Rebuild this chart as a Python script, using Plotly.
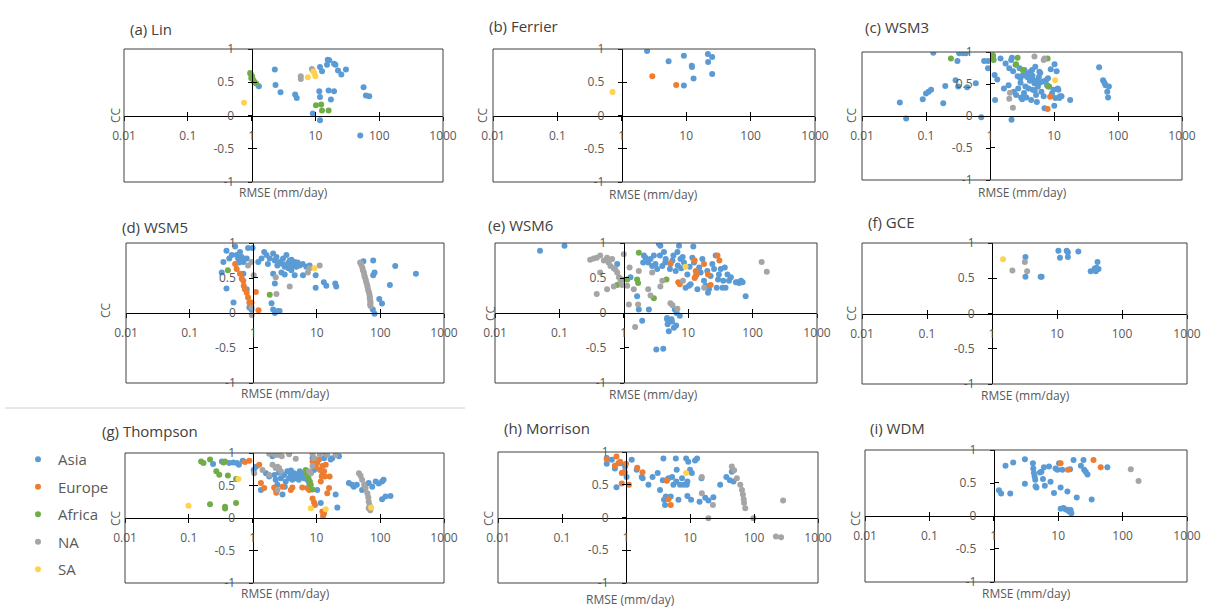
import plotly.graph_objects as go

REGIONS = ["Asia", "Europe", "Africa", "NA", "SA"]
COLORS = {"Asia": "#5B9BD5", "Europe": "#ED7D31", "Africa": "#70AD47", "NA": "#A5A5A5", "SA": "#FFD34E"}
PANEL_TITLES = ["(a) Lin", "(b) Ferrier", "(c) WSM3", "(d) WSM5", "(e) WSM6", "(f) GCE",
                "(g) Thompson", "(h) Morrison", "(i) WDM"]
X_TICKS = [0.01, 0.1, 1, 10, 100, 1000]
X_TICK_TEXT = ["0.01", "0.1", "1", "10", "100", "1000"]
Y_TICKS = [-1, -0.5, 0, 0.5, 1]
Y_TICK_TEXT = ["-1", "-0.5", "0", "0.5", "1"]

# (RMSE, CC) pairs per region, per scheme
LIN = {
    "Asia": [(1.30, 0.44), (2.31, 0.69), (2.37, 0.46), (2.84, 0.35), (4.81, 0.315), (5.1, 0.265), (11.8, 0.73),
             (12.7, 0.665), (11.5, 0.365), (11.8, 0.28), (11.8, -0.07), (9.1, 0.03), (15.6, 0.84), (16.5, 0.83),
             (15.2, 0.765), (16.1, 0.375), (17.5, 0.24), (19.6, 0.78), (20.6, 0.765), (19.6, 0.365), (22.6, 0.675),
             (25.5, 0.615), (30.1, 0.69), (56.9, 0.425), (62, 0.30), (69.8, 0.29), (50.5, -0.30)],
    "Africa": [(0.95, 0.64), (0.97, 0.62), (1.02, 0.59), (0.99, 0.56), (1.07, 0.53), (1.11, 0.50), (1.18, 0.48),
               (10.2, 0.155), (12.3, 0.165), (12.7, 0.075), (16.1, 0.075)],
    "NA": [(5.9, 0.59), (5.9, 0.55), (8.8, 0.70), (9.1, 0.675)],
    "SA": [(0.76, 0.19), (7.6, 0.575), (9.6, 0.64), (10.0, 0.59), (9.3, 0.66)],
}
FERRIER = {
    "Asia": [(2.47, 0.97), (5.33, 0.815), (9.2, 0.90), (12.2, 0.75), (12.3, 0.73), (21.7, 0.925), (25.3, 0.88),
             (21.9, 0.805), (25.3, 0.625), (13.0, 0.555), (9.2, 0.45)],
    "Europe": [(2.98, 0.59), (7.0, 0.46)],
    "SA": [(0.717, 0.355)],
}
WSM3 = {
    "Asia": [(0.039, 0.21), (0.049, -0.04), (0.089, 0.26), (0.10, 0.35), (0.11, 0.38), (0.12, 0.41), (0.13, 0.99),
             (0.186, 0.20), (0.20, 0.47), (0.29, 0.56), (0.31, 0.86), (0.33, 0.98), (0.38, 0.98), (0.42, 0.98),
             (0.318, 0.46), (0.44, 0.45), (0.60, 0.51), (0.73, -0.02), (0.81, 0.86), (0.93, 0.86), (0.93, 0.745),
             (1.11, 0.93), (1.18, 0.64), (1.3, 0.57), (1.2, 0.25), (1.46, 0.90), (1.65, 0.43), (1.75, 0.82),
             (1.95, 0.48), (2.0, 0.745), (2.14, 0.875), (2.2, 0.91), (2.17, -0.06), (2.36, 0.38), (2.56, 0.33),
             (2.76, 0.43), (2.9, 0.745), (2.99, 0.59), (3.06, 0.29), (3.18, 0.26), (3.26, 0.64), (3.46, 0.72),
             (3.58, 0.46), (3.8, 0.61), (4.0, 0.43), (4.28, 0.69), (4.4, 0.25), (4.55, 0.72), (4.65, 0.41),
             (4.77, 0.56), (4.95, 0.51), (5.1, 0.77), (5.25, 0.33), (5.4, 0.22), (5.6, 0.46), (5.8, 0.61),
             (5.9, 0.69), (6.1, 0.67), (6.35, 0.38), (6.7, 0.54), (6.9, 0.31), (7.1, 0.12), (7.5, 0.56), (7.8, 0.48),
             (8.05, 0.59), (8.4, 0.46), (8.9, 0.73), (9.3, 0.35), (9.8, 0.41), (10.2, 0.81), (10.5, 0.28),
             (11.0, 0.70), (11.4, 0.43), (11.7, 0.41), (12.1, 0.28), (12.4, 0.31), (13.1, 0.31), (17.9, 0.25),
             (10.1, 0.16), (2.5, 0.80), (3.0, 0.52), (3.4, 0.36), (3.9, 0.66), (4.2, 0.55), (4.6, 0.63), (5.0, 0.40),
             (5.5, 0.56), (6.0, 0.52), (3.7, 0.29), (2.7, 0.62), (2.3, 0.70),
             (50.7, 0.76), (58.4, 0.56), (61.3, 0.52), (64, 0.48), (72, 0.46), (68, 0.38), (70, 0.29)],
    "Europe": [(8.7, 0.30), (7.95, 0.11)],
    "Africa": [(0.245, 0.90), (1.11, 0.95), (1.14, 0.875), (2.56, 0.81), (2.7, 0.91), (3.26, 0.72), (7.95, 0.90),
               (8.1, 0.46)],
    "NA": [(2.05, 0.365), (2.0, 0.27), (2.28, 0.13), (4.95, 0.93), (6.9, 0.875), (7.1, 0.90)],
    "SA": [(10.4, 0.56)],
}
WSM5 = {
    "Asia": [(0.32, 0.58), (0.34, 0.73), (0.38, 0.89), (0.38, 0.35), (0.42, 0.78), (0.46, 0.83), (0.49, 0.15),
             (0.52, 0.95), (0.55, 0.83), (0.58, 0.78), (0.62, 0.87), (0.66, 0.80), (0.70, 0.73), (0.79, 0.78),
             (0.83, 0.93), (0.98, 0.93), (0.70, 0.56), (0.79, 0.34), (0.87, 0.08), (0.94, 0.05),
             (1.2, 0.73), (1.35, 0.78), (1.49, 0.87), (1.62, 0.83), (1.82, 0.78), (2.06, 0.85), (2.19, 0.75),
             (2.32, 0.80), (2.62, 0.73), (2.78, 0.58), (2.95, 0.78), (3.13, 0.66), (3.33, 0.83), (3.53, 0.71),
             (3.75, 0.75), (3.98, 0.61), (4.23, 0.68), (4.49, 0.73), (4.77, 0.66), (5.37, 0.68), (6.06, 0.54),
             (6.84, 0.66), (7.7, 0.68), (9.6, 0.54), (9.6, 0.36), (2.06, 0.56), (2.19, 0.42), (1.94, 0.14),
             (2.06, 0.05), (2.19, 0.0), (2.46, 0.03), (2.6, 0.03), (4.49, 0.54), (3.13, 0.55),
             (1.7, 0.70), (2.4, 0.68), (2.9, 0.70), (3.6, 0.64), (4.0, 0.76), (5.0, 0.72), (6.0, 0.70), (0.6, 0.72),
             (12.9, 0.44), (14.1, 0.39), (19.5, 0.42), (20.2, 0.38),
             (54, 0.74), (77, 0.75), (81, 0.58), (77, 0.54), (96, 0.20), (106, 0.135), (76, 0.05), (81, -0.01),
             (141, 0.40), (171, 0.67), (362, 0.56)],
    "Europe": [(0.52, 0.70), (0.55, 0.63), (0.62, 0.56), (0.66, 0.49), (0.70, 0.46), (0.71, 0.39), (0.74, 0.34),
               (0.79, 0.29), (0.83, 0.22), (0.87, 0.15), (0.94, 0.15), (1.1, 0.30), (1.21, 0.04)],
    "Africa": [(0.40, 0.61), (1.82, 0.26)],
    "NA": [(0.83, 0.68), (0.94, 0.73), (1.02, 0.54), (0.94, 0.08), (0.95, -0.03), (2.32, 0.27), (2.26, 0.51),
           (3.75, 0.38), (7.25, 0.58), (7.7, 0.64), (11.1, 0.68),
           (48, 0.72), (50, 0.69), (52, 0.65), (53, 0.61), (55, 0.58), (56, 0.54), (57, 0.51), (59, 0.47),
           (60, 0.44), (62, 0.40), (63, 0.37), (64, 0.33), (66, 0.30), (67, 0.27), (68, 0.24), (68, 0.21),
           (69, 0.18), (70, 0.15), (69, 0.12), (70, 0.10)],
    "SA": [(9.2, 0.64)],
}
WSM6 = {
    "Asia": [(0.05, 0.89), (0.12, 0.96), (0.79, 0.70), (1.27, 0.51), (1.61, 0.24), (1.71, 0.05), (1.93, -0.11),
             (2.05, 0.82), (2.0, 0.72), (2.17, 0.79), (2.39, 0.72), (2.45, 0.05), (2.6, 0.77), (2.76, 0.67),
             (2.93, 0.82), (3.1, 0.70), (3.2, -0.52), (3.3, 0.63), (3.5, 0.99), (3.64, 0.82), (3.7, 0.96),
             (3.96, 0.67), (4.1, -0.51), (4.2, 0.87), (4.47, 0.77), (4.7, -0.09), (4.8, -0.16), (5.0, -0.26),
             (4.7, -0.07), (5.2, 0.63), (5.3, 0.70), (5.5, -0.09), (5.7, 0.75), (5.9, 0.82), (6.0, -0.21),
             (6.2, 0.05), (6.4, 0.60), (6.8, 0.87), (6.9, 0.68), (7.2, 0.96), (7.4, -0.04), (7.6, 0.77), (7.8, 0.64),
             (8.6, 0.72), (9.1, 0.36), (9.7, 0.55), (10.3, 0.39), (10.9, 0.41), (11.6, 0.79), (12.0, 0.95),
             (12.3, 0.72), (13.1, 0.53), (13.9, 0.34), (14.8, 0.65), (15.6, 0.58), (16.6, 0.77), (17.6, 0.46),
             (18.7, 0.39), (19.8, 0.60), (20.3, 0.29), (21, 0.34), (22.3, 0.53), (23.7, 0.70), (25.2, 0.63),
             (26.7, 0.82), (27.7, 0.36), (29.1, 0.48), (30, 0.55), (32, 0.63), (34, 0.36), (35, 0.46), (37, 0.65),
             (38, 0.36), (40.7, 0.55), (43, 0.46), (46, 0.51), (55, 0.44), (58, 0.44), (62, 0.43), (66, 0.46),
             (70, 0.44), (78, 0.24), (6.6, 0.0), (5.6, -0.12), (6.5, -0.18), (4.4, 0.72), (8.2, 0.80), (10.5, 0.66)],
    "Europe": [(5.3, 0.71), (7.0, 0.44), (7.4, 0.41), (12.6, 0.75), (13.1, 0.60), (12.6, 0.50), (13.5, 0.55),
               (17.6, 0.70), (20.3, 0.55), (22.3, 0.40), (28.5, 0.82), (30.5, 0.75)],
    "Africa": [(0.79, 0.40), (0.94, 0.48), (1.13, 0.48), (1.71, 0.86), (1.61, 0.48), (1.67, 0.43), (2.93, 0.21),
               (4.6, 0.48)],
    "NA": [(0.30, 0.76), (0.34, 0.78), (0.38, 0.79), (0.43, 0.82), (0.49, 0.75), (0.55, 0.79), (0.58, 0.72),
           (0.62, 0.67), (0.66, 0.77), (0.70, 0.64), (0.74, 0.62), (0.79, 0.58), (0.84, 0.51), (0.89, 0.45),
           (0.94, 0.40), (1.0, 0.84), (0.43, 0.58), (0.55, 0.34), (0.70, 0.38), (0.38, 0.27), (1.13, 0.39),
           (1.23, 0.65), (1.2, 0.12), (1.43, 0.34), (1.5, -0.2), (1.67, 0.12), (1.71, 0.60), (2.39, 0.34),
           (2.6, 0.25), (2.76, 0.58), (3.7, 0.38), (3.96, 0.46), (5.3, 0.14), (5.7, 0.11), (6.8, 0.06),
           (8.3, 0.46), (17.7, 0.36), (138, 0.73), (166, 0.59)],
    "SA": [(9.1, 0.66)],
}
GCE = {
    "Asia": [(3.27, 0.80), (3.27, 0.52), (5.6, 0.52), (5.8, 0.52), (10.5, 0.89), (11.1, 0.79), (14.1, 0.89),
             (14.7, 0.87), (14.7, 0.80), (21.3, 0.88), (33, 0.60), (38, 0.64), (39.5, 0.60), (42, 0.73),
             (43.5, 0.63), (40.5, 0.65)],
    "NA": [(2.06, 0.61), (3.2, 0.73), (3.47, 0.60)],
    "SA": [(1.48, 0.77)],
}
THOMPSON = {
    "Asia": [(0.24, 0.83), (0.33, 0.87), (0.43, 0.845), (0.50, 0.855), (0.57, 0.845), (0.61, 0.82), (0.70, 0.88),
             (1.04, 0.74), (1.13, 0.79), (1.35, 0.43), (1.62, 0.69), (1.82, 0.64), (2.05, 0.95), (2.3, 0.59),
             (2.45, 0.51), (2.6, 0.70), (2.77, 0.61), (2.94, 0.36), (3.13, 0.66), (3.3, 0.56), (3.5, 0.72),
             (3.74, 0.61), (3.97, 0.66), (4.2, 0.59), (4.5, 0.69), (4.75, 0.61), (5.0, 0.66), (5.3, 0.59),
             (5.7, 0.64), (6.0, 0.69), (6.4, 0.61), (6.8, 0.66), (7.2, 0.59), (7.7, 0.54), (8.7, 0.92), (9.2, 0.74),
             (10.3, 0.43), (11.7, 0.23), (12.4, 0.66), (13.2, 0.92), (14.0, 1.0), (16.7, 0.90), (17.7, 0.92),
             (20, 0.36), (21.3, 0.16), (22.6, 0.95), (3.2, 0.48), (4.0, 0.73), (2.2, 0.66), (5.5, 0.72),
             (32.3, 0.54), (36.3, 0.51), (38.6, 0.48), (43, 0.51), (52, 0.43), (59, 0.51), (66, 0.54), (75, 0.48),
             (85, 0.56), (95, 0.53), (107, 0.56), (113, 0.59), (107, 0.29), (121, 0.33), (145, 0.34)],
    "Europe": [(0.76, 0.86), (0.89, 0.88), (1.27, 0.82), (1.35, 0.54), (1.52, 0.46), (2.18, 0.47), (2.3, 0.44),
               (2.35, 0.39), (2.94, 0.48), (3.97, 0.43), (4.2, 0.47), (6.0, 0.47), (7.2, 0.46), (7.7, 0.43),
               (8.16, 0.69), (8.7, 0.87), (9.2, 0.92), (8.7, 0.30), (9.2, 0.24), (9.5, 0.20), (9.8, 0.79),
               (10.3, 0.85), (11, 0.90), (11.4, 0.74), (11.7, 0.56), (12.1, 0.64), (12.4, 0.80), (13.2, 0.72),
               (13.6, 0.64), (14, 0.82), (12.4, 0.10), (12.7, 0.03), (13.2, 0.07), (14.8, 0.38), (15.8, 0.46),
               (16.1, 0.64)],
    "Africa": [(0.156, 0.87), (0.17, 0.845), (0.215, 0.90), (0.27, 0.72), (0.30, 0.665), (0.41, 0.655),
               (0.37, 0.87), (0.35, 0.855), (0.55, 0.60), (0.215, 0.21), (0.37, 0.175), (0.37, 0.145), (0.55, 0.23),
               (6.8, 0.74), (7.2, 0.70), (7.5, 0.61), (7.9, 0.56), (8.16, 0.51), (8.7, 0.44), (7.0, 0.68)],
    "NA": [(1.82, 0.99), (2.26, 0.97), (2.6, 0.97), (2.87, 0.95), (3.74, 0.98), (4.75, 0.91), (8.7, 0.99),
           (9.2, 0.92), (11.3, 0.98), (14.8, 0.97), (20, 0.97), (1.06, 0.69), (1.43, 0.74), (1.82, 0.66),
           (2.05, 0.82), (2.3, 0.77), (2.45, 0.79), (2.6, 0.77), (2.77, 0.72), (2.45, 0.43), (7.7, 0.72),
           (8.16, 0.69), (8.7, 0.80), (46.4, 0.69), (49.3, 0.65), (52, 0.59), (56, 0.51), (59, 0.46), (63, 0.38),
           (65, 0.32), (66, 0.25), (68, 0.20), (66, 0.15), (70, 0.12)],
    "SA": [(0.099, 0.19), (0.60, 0.60), (8.16, 0.15), (14.0, 0.135), (72, 0.16)],
}
MORRISON = {
    "Asia": [(0.50, 0.91), (0.50, 0.82), (0.60, 0.88), (0.67, 0.75), (0.71, 0.46), (0.83, 0.83), (0.97, 0.78),
             (1.02, 0.62), (1.23, 0.88), (1.47, 0.73), (1.76, 0.62), (1.82, 0.60), (2.24, 0.50), (2.6, 0.62),
             (3.13, 0.68), (3.4, 0.42), (3.76, 0.57), (3.84, 0.90), (3.93, 0.27), (4.07, 0.19), (4.2, 0.32),
             (4.34, 0.57), (4.6, 0.60), (5.0, 0.32), (5.26, 0.62), (5.5, 0.50), (6.0, 0.90), (6.1, 0.55),
             (6.2, 0.73), (6.6, 0.27), (7.0, 0.50), (7.5, 0.60), (7.9, 0.50), (8.7, 0.90), (8.9, 0.50), (9.1, 0.55),
             (9.1, 0.33), (9.4, 0.85), (10, 0.73), (10.4, 0.27), (10.7, 0.68), (12.0, 0.87), (12.9, 0.90),
             (14.1, 0.24), (15.1, 0.60), (17.3, 0.30), (19.4, 0.26), (23.2, 0.31), (29.6, 0.50), (37, 0.62),
             (41.9, 0.57), (47.8, 0.55), (45, 0.70)],
    "Europe": [(0.50, 0.89), (0.71, 0.93), (0.76, 0.83), (0.67, 0.79), (0.81, 0.85), (0.86, 0.68), (0.91, 0.69),
               (0.96, 0.69), (1.0, 0.82), (0.86, 0.52), (1.11, 0.50), (1.5, 0.76), (1.81, 0.69), (4.34, 0.56),
               (4.6, 0.28), (5.0, 0.19)],
    "NA": [(15.3, 0.62), (15.3, 0.37), (22.8, 0.19), (19.4, -0.01), (45, 0.78), (48.9, 0.72), (54, 0.60),
           (61, 0.50), (65, 0.42), (67, 0.35), (69, 0.28), (70, 0.22), (73, 0.14), (98, -0.01), (220, -0.29),
           (265, -0.30), (285, 0.26)],
    "SA": [(8.7, 0.68)],
}
WDM = {
    "Asia": [(1.2, 0.39), (1.3, 0.34), (1.52, 0.76), (1.8, 0.34), (2.0, 0.81), (3.04, 0.86), (3.04, 0.49),
             (4.05, 0.80), (4.1, 0.72), (4.2, 0.65), (4.3, 0.60), (4.4, 0.55), (4.45, 0.45), (4.6, 0.43),
             (5.2, 0.66), (5.5, 0.67), (5.8, 0.56), (6.0, 0.74), (6.2, 0.46), (7.2, 0.75), (7.6, 0.52), (8.6, 0.35),
             (9.1, 0.72), (9.7, 0.70), (10.3, 0.80), (10.9, 0.43), (10.9, 0.11), (11.6, 0.70), (12.1, 0.12),
             (13.1, 0.10), (13.9, 0.37), (14.2, 0.09), (14.8, 0.07), (15.3, 0.71), (16, 0.04), (15.6, 0.09),
             (17.3, 0.85), (19.4, 0.28), (22.5, 0.76), (24.7, 0.85), (25.3, 0.70), (26.8, 0.67), (28.5, 0.63),
             (33.1, 0.25), (58, 0.74)],
    "Europe": [(10.9, 0.80), (14.2, 0.70), (35.3, 0.85), (45.7, 0.74)],
    "NA": [(134, 0.71), (177, 0.53)],
}
PANELS = [LIN, FERRIER, WSM3, WSM5, WSM6, GCE, THOMPSON, MORRISON, WDM]

# ---------------- layout geometry (pixels in a 1207 x 609 canvas) ----------------
W, H = 1207, 609
BOXES = [(124, 443, 49, 182), (493, 815, 49, 182), (862, 1182, 52, 180),
         (126, 444, 243, 383), (495, 817, 243, 383), (862, 1187, 243, 384),
         (125, 444, 453, 583), (498, 818, 452, 583), (865, 1187, 450, 582)]
TITLE_POS = [(128, 29), (487, 26), (863, 27), (120, 227), (486, 225), (866, 222), (100, 431), (502, 428), (868, 428)]
XLAB_POS = [(283, 193), (653, 194), (1022, 192), (285, 393), (653, 394), (1025, 395), (285, 593), (630, 599), (1026, 593)]
YLAB_POS = [(115, 115), (482, 115), (851, 115), (105, 310), (490, 313), (851, 313), (115, 518), (488, 518), (855, 518)]

FONT = "Open Sans, Liberation Sans, sans-serif"
TXT = "#595959"
AXC = "#000000"

# cross-style tick marks (outer part = major ticks, inner part = minor ticks), skipped where axes meet
X_MINOR = [v * 1.0001 for v in X_TICKS if v not in (1, 0.01, 1000)]
Y_MINOR = [v + 0.0001 for v in Y_TICKS if v not in (0, -1, 1)]

fig = go.Figure()
layout = dict(width=W, height=H, margin=dict(l=0, r=0, t=0, b=0, autoexpand=False), paper_bgcolor="white",
              plot_bgcolor="rgba(0,0,0,0)", font=dict(family=FONT, color=TXT), showlegend=True)
annotations, shapes = [], []

for k, (panel, box) in enumerate(zip(PANELS, BOXES), start=1):
    x0, x1, ytop, ybot = box
    dx = [x0 / W, x1 / W]
    dy = [1 - ybot / H, 1 - ytop / H]
    xs = "" if k == 1 else str(k)
    for reg in REGIONS:
        if reg not in panel:
            continue
        pts = panel[reg]
        fig.add_trace(go.Scatter(
            x=[p[0] for p in pts], y=[p[1] for p in pts], mode="markers", name=reg,
            marker=dict(color=COLORS[reg], size=6, line=dict(width=0)),
            xaxis="x" + xs, yaxis="y" + xs, legendgroup=reg, showlegend=(k == 7)))
    layout["xaxis" + xs] = dict(
        type="log", range=[-2, 3], domain=dx, anchor="free", position=(dy[0] + dy[1]) / 2, automargin=False,
        showline=True, linecolor=AXC, linewidth=1, showgrid=False, zeroline=False,
        tickmode="array", tickvals=X_TICKS, ticktext=X_TICK_TEXT, ticks="outside", ticklen=4, tickcolor=AXC,
        tickfont=dict(size=12, color=TXT), ticklabelstandoff=5,
        minor=dict(ticks="inside", ticklen=4, tickcolor=AXC, tickmode="array", tickvals=X_MINOR))
    layout["yaxis" + xs] = dict(
        range=[-1, 1], domain=dy, anchor="free", position=dx[0] + 0.4 * (dx[1] - dx[0]), automargin=False,
        showline=True, linecolor=AXC, linewidth=1, showgrid=False, zeroline=False,
        tickmode="array", tickvals=Y_TICKS, ticktext=Y_TICK_TEXT, ticks="outside", ticklen=4, tickcolor=AXC,
        tickfont=dict(size=12, color=TXT), ticklabelstandoff=11,
        minor=dict(ticks="inside", ticklen=4, tickcolor=AXC, tickmode="array", tickvals=Y_MINOR))
    shapes.append(dict(type="rect", xref="x" + xs + " domain", yref="y" + xs + " domain",
                       x0=0, x1=1, y0=0, y1=1, line=dict(color="#404040", width=1)))
    tx, ty = TITLE_POS[k - 1]
    annotations.append(dict(text=PANEL_TITLES[k - 1], x=tx / W, y=1 - ty / H, xref="paper", yref="paper",
                            xanchor="left", yanchor="middle", showarrow=False,
                            font=dict(size=15, color="#404040")))
    lx, ly = XLAB_POS[k - 1]
    annotations.append(dict(text="RMSE (mm/day)", x=lx / W, y=1 - ly / H, xref="paper", yref="paper",
                            xanchor="center", yanchor="middle", showarrow=False, font=dict(size=12, color=TXT)))
    cx, cy = YLAB_POS[k - 1]
    annotations.append(dict(text="CC", x=cx / W, y=1 - cy / H, xref="paper", yref="paper", textangle=-90,
                            xanchor="center", yanchor="middle", showarrow=False, font=dict(size=12, color=TXT)))

shapes.append(dict(type="line", xref="paper", yref="paper", x0=5 / W, x1=465 / W, y0=1 - 408 / H, y1=1 - 408 / H,
                   line=dict(color="#D0D0D0", width=1)))

layout["annotations"] = annotations
layout["shapes"] = shapes
layout["legend"] = dict(x=18 / W, y=1 - 443 / H, xanchor="left", yanchor="top", bgcolor="rgba(0,0,0,0)",
                        font=dict(size=15, color=TXT), tracegroupgap=5, itemclick=False)
fig.update_layout(**layout)
fig.write_html("out.html", config={"displayModeBar": False},
               post_script="document.body.style.margin='0px';document.body.style.overflow='hidden';")
